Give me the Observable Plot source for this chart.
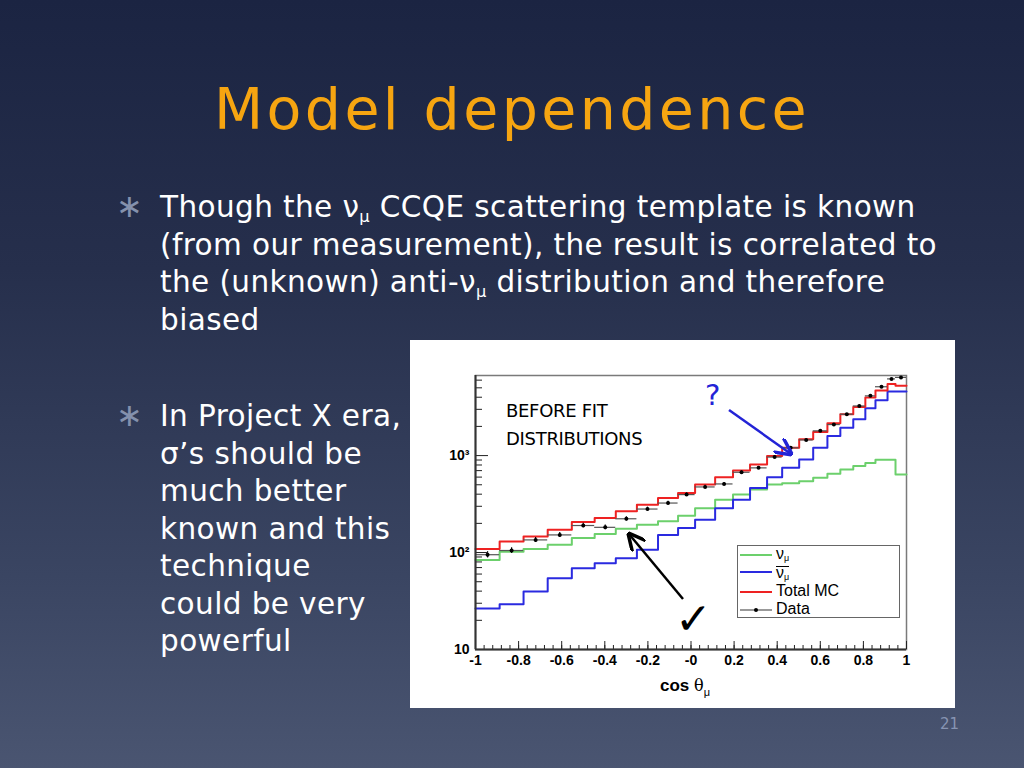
<!DOCTYPE html>
<html>
<head>
<meta charset="utf-8">
<script src="https://cdn.jsdelivr.net/npm/d3@7"></script>
<script src="https://cdn.jsdelivr.net/npm/@observablehq/plot@0.6"></script>
<style>
  html, body { margin: 0; padding: 0; }
  body { width: 1024px; height: 768px; overflow: hidden; position: relative;
    background: linear-gradient(180deg, #1b2442 0%, #262f4c 35%, #3a4562 75%, #4a5571 100%);
    font-family: "DejaVu Sans", sans-serif; }
  .abs { position: absolute; white-space: nowrap; }
  #title { left: 0; width: 1024px; text-align: center; top: 76px; font-size: 57px; color: #f6a511; font-family: "DejaVu Sans", sans-serif; letter-spacing: 3.4px; }
  .body { color: #ffffff; font-size: 29.5px; line-height: 37.5px; letter-spacing: 0.4px; }
  .bullet { color: #8491ad; font-size: 32px; }
  .body sub { font-size: 0.55em; vertical-align: baseline; position: relative; top: 0.3em; line-height: 0; }
  #chartbox { left: 410px; top: 340px; width: 545px; height: 368px; background: #fff; }
  #chart svg { display: block; }
  .legend { position: absolute; left: 327px; top: 205px; width: 163px; height: 73px; border: 1px solid #666; background: #fff; box-sizing: border-box; font-family: "Liberation Sans", Arial, sans-serif; font-size: 16px; color: #000; }
  .lrow { position: absolute; left: 0; height: 17px; width: 160px; }
  .lrow svg { position: absolute; left: 2px; top: 0; }
  .lrow .t { position: absolute; left: 38px; top: 0; line-height: 16px; height: 16px; }
  .lsub { font-size: 9px; position: relative; top: 2px; line-height: 0; }
  .bar { display: inline-block; line-height: 11px; height: 12px; border-top: 1.5px solid #000; position: relative; top: 2px; }
</style>
</head>
<body>
<div id="title" class="abs">Model dependence</div>

<div class="abs bullet" style="left:116px; top:187px;">∗</div>
<div class="abs body" style="left:160px; top:189px;">
Though the ν<sub>μ</sub> CCQE scattering template is known<br>
(from our measurement), the result is correlated to<br>
the (unknown) anti-ν<sub>μ</sub> distribution and therefore<br>
biased
</div>

<div class="abs bullet" style="left:116px; top:396px;">∗</div>
<div class="abs body" style="left:160px; top:398px;">
In Project X era,<br>
σ’s should be<br>
much better<br>
known and this<br>
technique<br>
could be very<br>
powerful
</div>

<div id="chartbox" class="abs">
  <div id="chart"></div>
  <div class="abs" style="left:96px; top:57px; font-family:'DejaVu Sans',sans-serif; font-size:18px; line-height:28px; color:#000; letter-spacing:-0.3px;">BEFORE FIT<br>DISTRIBUTIONS</div>
  <div class="abs" style="left:295px; top:38px; font-family:'DejaVu Sans',sans-serif; font-size:29px; color:#2323d6;">?</div>
  <div class="abs" style="left:250px; top:336px; font-family:'Liberation Sans',Arial,sans-serif; font-weight:bold; font-size:17px; color:#000;">cos <span style="font-family:'DejaVu Serif',serif; font-weight:normal; font-size:16px;">θ</span><span style="font-weight:normal; font-size:11px; position:relative; top:5px;">μ</span></div>
  <div class="abs" style="left:265px; top:257px; font-family:'DejaVu Sans',sans-serif; font-size:44px; font-weight:bold; color:#000; line-height:44px;">✓</div>
  <svg class="abs" style="left:0; top:0;" width="545" height="368">
    <defs>
      <marker id="ab" viewBox="0 0 10 10" refX="9" refY="5" markerWidth="7" markerHeight="7" orient="auto-start-reverse">
        <path d="M0,0 L10,5 L0,10" fill="none" stroke="#2323d6" stroke-width="2"/>
      </marker>
      <marker id="ak" viewBox="0 0 10 10" refX="9" refY="5" markerWidth="7" markerHeight="7" orient="auto-start-reverse">
        <path d="M0,0 L10,5 L0,10" fill="none" stroke="#000" stroke-width="2"/>
      </marker>
    </defs>
    <line x1="319" y1="70" x2="381" y2="114" stroke="#2323d6" stroke-width="2.5" marker-end="url(#ab)"/>
    <line x1="273" y1="259" x2="219" y2="194" stroke="#000" stroke-width="2.5" marker-end="url(#ak)"/>
  </svg>
  <div class="legend">
    <div class="lrow" style="top:0px;"><svg width="34" height="17"><line x1="0" y1="9" x2="32" y2="9" stroke="#6cd06c" stroke-width="2"/></svg><span class="t">ν<span class="lsub">μ</span></span></div>
    <div class="lrow" style="top:17px;"><svg width="34" height="17"><line x1="0" y1="9" x2="32" y2="9" stroke="#2a2ae0" stroke-width="2"/></svg><span class="t"><span class="bar">ν<span class="lsub">μ</span></span></span></div>
    <div class="lrow" style="top:37px;"><svg width="34" height="17"><line x1="0" y1="9" x2="32" y2="9" stroke="#ee2222" stroke-width="2"/></svg><span class="t">Total MC</span></div>
    <div class="lrow" style="top:55px;"><svg width="34" height="17"><line x1="0" y1="9" x2="32" y2="9" stroke="#555" stroke-width="1.2"/><circle cx="16" cy="9" r="2" fill="#000"/></svg><span class="t">Data</span></div>
  </div>
</div>

<div class="abs" style="left:940px; top:715px; font-size:15px; color:#8794b2; font-family:'DejaVu Sans',sans-serif;">21</div>

<script>
// ---- data ----
const binEdges = [-1, -0.888, -0.777, -0.665, -0.553, -0.447, -0.349, -0.251, -0.153, -0.060, 0.019, 0.112, 0.195, 0.274, 0.353, 0.423, 0.502, 0.567, 0.633, 0.693, 0.753, 0.809, 0.856, 0.912, 0.949, 1];
const numu     = [84, 102, 109, 120, 141, 155, 176, 194, 210, 240, 287, 351, 396, 447, 502, 520, 545, 590, 650, 720, 780, 840, 905, 905, 640];
const numubar  = [26.5, 29.3, 39.7, 54.2, 68.8, 77.5, 87.3, 106.6, 152, 179, 218, 287, 351, 464, 599, 747, 910, 1203, 1590, 1940, 2370, 3080, 3720, 4570, 4570];
const totalMC  = [109, 130, 146, 172, 206, 227, 266, 312, 365, 412, 502, 599, 703, 810, 990, 1203, 1470, 1750, 2150, 2670, 3180, 3970, 4700, 5470, 5260];
const dataVals = [95, 105, 135, 152, 190, 182, 223, 281, 324, 396, 475, 510, 673, 747, 965, 1203, 1450, 1800, 2090, 2670, 3250, 4130, 5130, 6180, 6400];
const dataErr  = [7, 7, 8, 9, 10, 10, 11, 13, 14, 16, 18, 19, 22, 24, 28, 32, 36, 40, 45, 50, 55, 63, 70, 78, 80];
const xTicks = [-1, -0.8, -0.6, -0.4, -0.2, 0, 0.2, 0.4, 0.6, 0.8, 1];
const xTickLabels = ["-1", "-0.8", "-0.6", "-0.4", "-0.2", "-0", "0.2", "0.4", "0.6", "0.8", "1"];
const xMinorTicks = d3.range(-1, 1.0001, 0.04).map(v => +v.toFixed(2));
const yTicks = [10, 100, 1000];
const yTickLabels = ["10", "10²", "10³"];
const yMinorTicks = [20,30,40,50,60,70,80,90,200,300,400,500,600,700,800,900,2000,3000,4000,5000,6000];

const W = 545, H = 368, mL = 65, mR = 49, mT = 35, mB = 59;
const pw = W - mL - mR, ph = H - mT - mB;

function stepPts(vals) {
  const pts = vals.map((v, i) => ({x: binEdges[i], y: v}));
  pts.push({x: binEdges[binEdges.length - 1], y: vals[vals.length - 1]});
  return pts;
}
const dataRows = dataVals.map((v, i) => ({
  x: (binEdges[i] + binEdges[i + 1]) / 2, x1: binEdges[i], x2: binEdges[i + 1],
  y: v, lo: v - dataErr[i], hi: v + dataErr[i]
}));
const yLabelRows = yTicks.map((v, i) => ({y: v, label: yTickLabels[i]}));
const xLabelRows = xTicks.map((v, i) => ({x: v, label: xTickLabels[i]}));

const chart = Plot.plot({
  width: W, height: H,
  marginLeft: mL, marginRight: mR, marginTop: mT, marginBottom: mB,
  style: {background: "white", fontFamily: "'Liberation Sans', Arial, sans-serif", fontSize: "14px", color: "#000"},
  x: {domain: [-1, 1], axis: null},
  y: {type: "log", domain: [10, 6700], axis: null},
  marks: [
    Plot.frame({stroke: "#7a7a7a", strokeWidth: 1.5}),
    Plot.line(stepPts(numu), {x: "x", y: "y", curve: "step-after", stroke: "#6cd06c", strokeWidth: 2}),
    Plot.line(stepPts(numubar), {x: "x", y: "y", curve: "step-after", stroke: "#2a2ae0", strokeWidth: 2}),
    Plot.line(stepPts(totalMC), {x: "x", y: "y", curve: "step-after", stroke: "#ee2222", strokeWidth: 2}),
    Plot.ruleY(dataRows, {y: "y", x1: "x1", x2: "x2", stroke: "#555", strokeWidth: 1.2}),
    Plot.ruleX(dataRows, {x: "x", y1: "lo", y2: "hi", stroke: "#000", strokeWidth: 1.2}),
    Plot.dot(dataRows, {x: "x", y: "y", r: 2, fill: "#000", stroke: "none"}),
    Plot.tickY(yTicks, {y: d => d, insetRight: pw - 13, stroke: "#222"}),
    Plot.tickY(yMinorTicks, {y: d => d, insetRight: pw - 7, stroke: "#222"}),
    Plot.tickX(xTicks, {x: d => d, insetTop: ph - 8, stroke: "#222"}),
    Plot.tickX(xMinorTicks, {x: d => d, insetTop: ph - 4, stroke: "#222"}),
    Plot.ruleX([-1], {stroke: "#333", strokeWidth: 2}),
    Plot.ruleY([10], {stroke: "#333", strokeWidth: 2}),
    Plot.text(yLabelRows, {y: "y", text: "label", frameAnchor: "left", textAnchor: "end", dx: -6, fontWeight: "bold", fontSize: 14, fill: "#000"}),
    Plot.text(xLabelRows, {x: "x", text: "label", frameAnchor: "bottom", lineAnchor: "top", dy: 6, fontWeight: "bold", fontSize: 14, fill: "#000"})
  ]
});
document.getElementById("chart").appendChild(chart);
</script>
</body>
</html>
